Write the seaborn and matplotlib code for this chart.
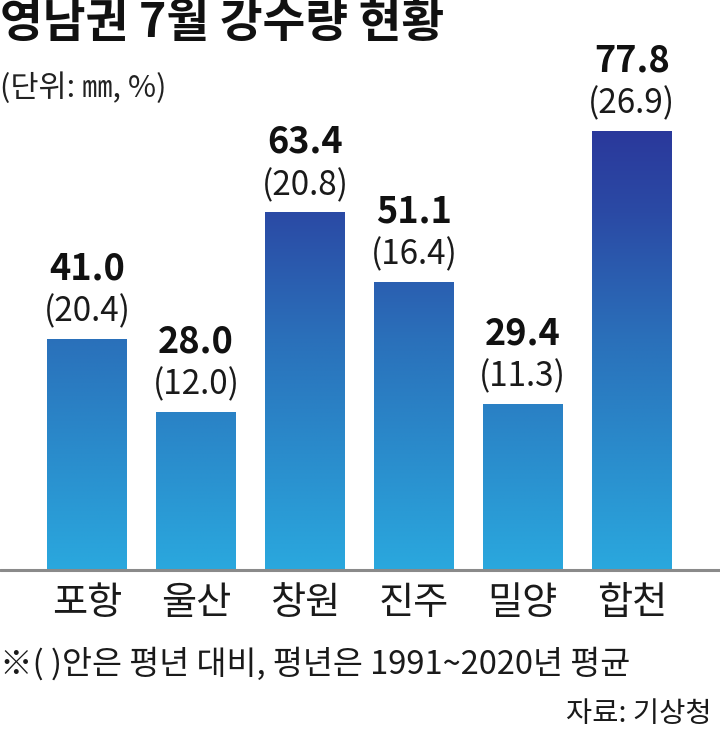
import numpy as np
import pandas as pd
import matplotlib
matplotlib.use("Agg")
import matplotlib.pyplot as plt
from matplotlib.colors import LinearSegmentedColormap
import seaborn as sns

# ---- data ----
regions = ["포항", "울산", "창원", "진주", "밀양", "합천"]
rain_mm = [41.0, 28.0, 63.4, 51.1, 29.4, 77.8]
pct_normal = [20.4, 12.0, 20.8, 16.4, 11.3, 26.9]

title = "영남권 7월 강수량 현황"
unit_note = "(단위: ㎜, %)"
footnote = "※( )안은 평년 대비, 평년은 1991~2020년 평균"
source = "자료: 기상청"

sns.set_theme(style="white")
plt.rcParams['font.family'] = ['Noto Sans CJK KR', 'DejaVu Sans']

W, H = 720, 738
fig = plt.figure(figsize=(W / 100, H / 100), dpi=100)
fig.patch.set_facecolor("white")

base_px = 570
scale = 5.64  # px per mm
ax = fig.add_axes([0, 1 - base_px / H, 1, base_px / H])
ax.set_facecolor("none")

df = pd.DataFrame({"region": regions, "mm": rain_mm})
sns.barplot(data=df, x="region", y="mm", ax=ax, width=0.73,
            color="#2a8ccc", saturation=1, edgecolor="none", linewidth=0)

ax.set_xlim(-0.8, 5.81)
ax.set_ylim(0, base_px / scale)
ax.set_xlabel("")
ax.set_ylabel("")
ax.set_yticks([])
for s in ax.spines.values():
    s.set_visible(False)
ax.tick_params(axis="x", length=0, pad=10, labelsize=27.5)
for lab in ax.get_xticklabels():
    lab.set_color("#1a1a1a")

# gradient fill
cmap = LinearSegmentedColormap.from_list(
    "rain", [(0.0, "#2aa8de"), (41 / 80, "#2a70ba"), (63.4 / 80, "#2b4aa5"), (1.0, "#2a369a")])
grad = np.linspace(0, 1, 256).reshape(-1, 1)
for p in ax.patches:
    x0 = p.get_x()
    w = p.get_width()
    p.set_facecolor("none")
    im = ax.imshow(grad, cmap=cmap, origin="lower", aspect="auto",
                   extent=[x0, x0 + w, 0, 80], interpolation="bilinear", zorder=2)
    im.set_clip_path(p)
ax.set_xlim(-0.8, 5.81)
ax.set_ylim(0, base_px / scale)

# baseline
ax.axhline(0, color="#8a8a8a", lw=2.2, zorder=3, clip_on=False)

# value labels
for i, (v, pc) in enumerate(zip(rain_mm, pct_normal)):
    ax.annotate(f"{v:.1f}", (i, v), xytext=(0, 70), textcoords="offset pixels",
                ha="center", va="center", fontsize=26, fontweight="bold", color="#111111")
    ax.annotate(f"({pc:.1f})", (i, v), xytext=(0, 27), textcoords="offset pixels",
                ha="center", va="center", fontsize=24, color="#1a1a1a")

# titles & notes
fig.text(0 / W, 1 - 23 / H, title, ha="left", va="center", fontsize=33.5,
         fontweight="bold", color="#111111")
fig.text(0 / W, 1 - 88 / H, unit_note, ha="left", va="center", fontsize=22, color="#222222")
fig.text(0 / W, 1 - 664 / H, footnote, ha="left", va="center", fontsize=23.5, color="#1a1a1a")
fig.text(712 / W, 1 - 714 / H, source, ha="right", va="center", fontsize=20.5, color="#1a1a1a")

fig.savefig("out.png", dpi=100, facecolor="white")
